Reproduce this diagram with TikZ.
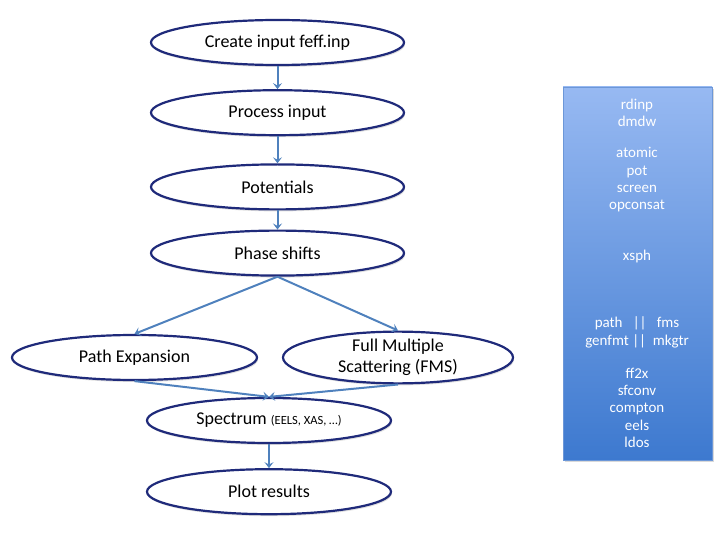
\documentclass[tikz,border=0pt]{standalone}
\usepackage{fontspec}
\setmainfont{Carlito}
\usetikzlibrary{positioning, arrows.meta, shapes.geometric, shadows}

\definecolor{stageline}{HTML}{1F2A7A}
\definecolor{flowblue}{HTML}{4F81BD}
\definecolor{boxtop}{HTML}{97B9F2}
\definecolor{boxbottom}{HTML}{3D79CF}
\definecolor{boxedge}{HTML}{6C97D8}

\begin{document}
\begin{tikzpicture}[
    x=1pt, y=-1pt,
    stage/.style={ellipse, draw=stageline, line width=2.2pt, fill=white, minimum width=253pt, minimum height=45pt, inner sep=0pt, align=center, font=\fontsize{18}{21}\selectfont, drop shadow={opacity=0.25, shadow xshift=1pt, shadow yshift=-2pt}},
    arr/.style={-{Stealth[length=6pt, width=9pt, inset=2.5pt]}, draw=flowblue, fill=flowblue, line width=2pt},
    module/.style={font=\fontsize{15}{16}\selectfont, text=white, inner sep=0pt, anchor=base},
]
\useasboundingbox (0,0) rectangle (720,540);

% main flow
\node[stage] (create) at (277.5,42.5) {Create input feff.inp};
\node[stage, below=23pt of create] (process) {Process input};
\node[stage, below=27pt of process] (potentials) {Potentials};
\node[stage, below=19pt of potentials] (phase) {Phase shifts};
\node[stage, minimum width=245pt] (pathexp) at (134.5,357.5) {Path Expansion};
\node[stage, minimum width=230pt] (fms) at (398,357.5) {Full Multiple\\Scattering (FMS)};
\node[stage, minimum width=244pt] (spectrum) at (269,420.5) {Spectrum {\fontsize{12.5}{14}\selectfont(EELS, XAS, \dots)}};
\node[stage, minimum width=244pt, below=24pt of spectrum] (plot) {Plot results};

\draw[arr] (create) -- (process);
\draw[arr] (process) -- (potentials);
\draw[arr] (potentials) -- (phase);
\draw[arr] (phase.south) -- (pathexp.north);
\draw[arr] (phase.south) -- (fms.north);
\draw[arr] (pathexp.south) -- (spectrum.north);
\draw[arr] (fms.south) -- (spectrum.north);
\draw[arr] (spectrum) -- (plot);

% program modules
\node[rectangle, minimum width=149pt, minimum height=373pt, top color=boxtop, bottom color=boxbottom, draw=boxedge, line width=0.6pt, drop shadow={opacity=0.3, shadow xshift=2pt, shadow yshift=-2pt}] (modules) at (637.5,273.5) {};
\foreach \ty/\txt [count=\i] in {110/rdinp, 127/dmdw, 158/atomic, 176/pot, 193/screen, 210/opconsat, 260/xsph, 327/path~~~||~~~fms, 345/genfmt || ~mkgtr, 378/ff2x, 395/sfconv, 412/compton, 430/eels, 447/ldos}
  \node[module] (mod\i) at (637,\ty) {\txt};
\end{tikzpicture}
\end{document}
